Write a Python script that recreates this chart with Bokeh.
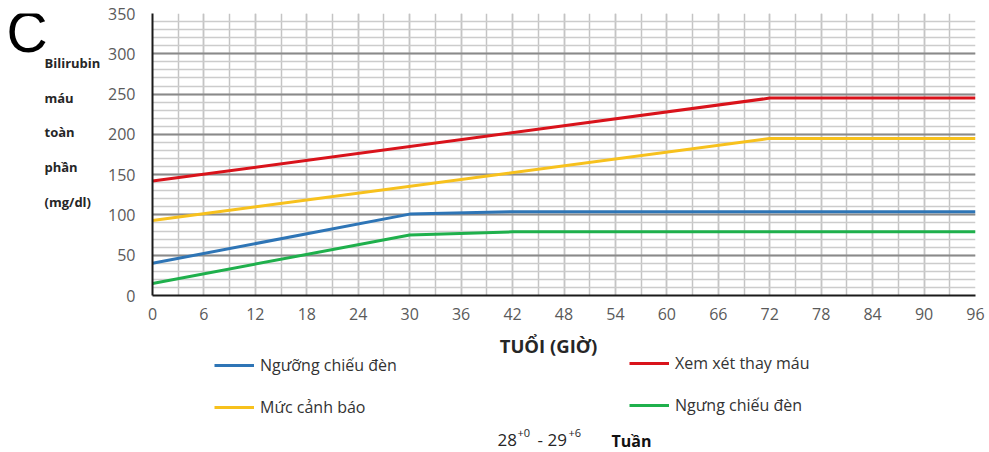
from bokeh.plotting import figure
from bokeh.layouts import column, row
from bokeh.models import FixedTicker, Legend, LegendItem, Range1d
from bokeh.core.properties import value
from bokeh.embed import file_html
from bokeh.resources import INLINE

# Age in hours and bilirubin thresholds (mg/dl), 28+0 - 29+6 weeks
hours_photo = [0, 30, 42, 96]
photo_start = [40, 101, 104, 104]      # Ngưỡng chiếu đèn
photo_stop = [15, 75, 79, 79]          # Ngưng chiếu đèn
hours_upper = [0, 72, 96]
warning = [93, 195, 195]               # Mức cảnh báo
exchange = [142, 245, 245]             # Xem xét thay máu

x_ticks = list(range(0, 97, 6))
x_minor = list(range(0, 97, 3))
y_ticks = list(range(0, 351, 50))
y_minor = list(range(0, 351, 10))

series_names = ["Ngưỡng chiếu đèn", "Mức cảnh báo", "Xem xét thay máu", "Ngưng chiếu đèn"]
series_colors = ["#2e75b6", "#f7c11d", "#d9131b", "#1fb04c"]
y_title_words = ["Bilirubin", "máu", "toàn", "phần", "(mg/dl)"]

FONT = "Open Sans"
W, H = 989, 452
TOP_H = 330
LEFT_W = 100
FRAME_TOP, FRAME_BOTTOM = 13, 295


def blank(width, height, x0, x1, y_bottom, y_top):
    # a figure without axes whose coordinates follow the page pixels
    f = figure(width=width, height=height, output_backend="svg",
               toolbar_location=None, x_axis_location=None, y_axis_location=None,
               x_range=Range1d(x0, x1), y_range=Range1d(y_bottom, y_top),
               min_border=0)
    f.outline_line_color = None
    f.grid.visible = False
    f.background_fill_color = "white"
    f.border_fill_color = "white"
    return f


# ---------------- main chart ----------------
p = figure(width=W - LEFT_W, height=TOP_H, output_backend="svg", toolbar_location=None,
           x_range=Range1d(0, 96), y_range=Range1d(0, 350),
           min_border_left=152 - LEFT_W, min_border_right=14,
           min_border_top=FRAME_TOP, min_border_bottom=TOP_H - FRAME_BOTTOM)
p.outline_line_color = None
p.background_fill_color = "white"
p.border_fill_color = "white"

p.xaxis.ticker = FixedTicker(ticks=x_ticks, minor_ticks=x_minor)
p.yaxis.ticker = FixedTicker(ticks=y_ticks, minor_ticks=y_minor)
for ax in (p.xaxis, p.yaxis):
    ax.axis_line_color = "#1a1a1a"
    ax.axis_line_width = 2
    ax.major_tick_out = 0
    ax.major_tick_in = 0
    ax.minor_tick_out = 0
    ax.minor_tick_in = 0
    ax.major_label_text_font = FONT
    ax.major_label_text_font_size = "16px"
    ax.major_label_text_color = "#5a5a5a"
p.xaxis.major_label_standoff = 12
p.yaxis.major_label_standoff = 17

p.xgrid.grid_line_color = "#c4c4c4"
p.xgrid.grid_line_width = 1.5
p.xgrid.minor_grid_line_color = "#c4c4c4"
p.xgrid.minor_grid_line_width = 1.5
p.ygrid.grid_line_color = "#8a8a8a"
p.ygrid.grid_line_width = 2
p.ygrid.minor_grid_line_color = "#cccccc"
p.ygrid.minor_grid_line_width = 1.5

p.line(hours_photo, photo_start, line_color=series_colors[0], line_width=3)
p.line(hours_upper, warning, line_color=series_colors[1], line_width=3)
p.line(hours_upper, exchange, line_color=series_colors[2], line_width=3)
p.line(hours_photo, photo_stop, line_color=series_colors[3], line_width=3)

# ---------------- left strip: panel letter and y title ----------------
# its frame lines up with the chart frame, so its range spans the frame rows
left = blank(LEFT_W, TOP_H, 0, LEFT_W, FRAME_BOTTOM, FRAME_TOP)
left.text(x=[6], y=[31], text=["C"], text_font=value("Liberation Sans"),
          text_font_size="57px", text_color="#000000", text_baseline="middle")
left.text(x=[44] * 5, y=[62, 97, 131, 166, 201], text=y_title_words,
          text_font=value(FONT), text_font_size="13px", text_font_style="bold",
          text_color="#262626", text_baseline="middle")

# ---------------- bottom strip: x title, legends, caption ----------------
bottom = blank(W, H - TOP_H, 0, W, H, TOP_H)
bottom.text(x=[548], y=[345], text=["TUỔI (GIỜ)"], text_font=value(FONT),
            text_font_size="18.5px", text_font_style="bold", text_color="#262626",
            text_align="center", text_baseline="middle")

bottom.text(x=[497, 547], y=[439, 439], text=["28", "29"], text_font=value(FONT),
            text_font_size="17px", text_color="#262626", text_baseline="middle")
bottom.text(x=[537], y=[439], text=["-"], text_font=value(FONT),
            text_font_size="17px", text_color="#262626", text_baseline="middle")
bottom.text(x=[517, 568], y=[432, 432], text=["+0", "+6"], text_font=value(FONT),
            text_font_size="11px", text_color="#262626", text_baseline="middle")
bottom.text(x=[611], y=[440], text=["Tuần"], text_font=value(FONT),
            text_font_size="16px", text_font_style="bold", text_color="#111111",
            text_baseline="middle")

# legend swatches: lines styled like the chart series, kept outside the view
swatches = [bottom.line(x=[-60, -50], y=[400, 400], line_color=c, line_width=3)
            for c in series_colors]


def make_legend(idx, left_px, bottom_px):
    items = [LegendItem(label=series_names[i], renderers=[swatches[i]]) for i in idx]
    return Legend(items=items, location=(left_px, H - bottom_px),
                  orientation="vertical",
                  glyph_width=40, glyph_height=20, label_height=20,
                  spacing=20, padding=0, margin=0, label_standoff=6,
                  label_text_font=FONT, label_text_font_size="16px",
                  label_text_color="#333333",
                  border_line_alpha=0, background_fill_alpha=0)


bottom.add_layout(make_legend([0, 1], 214, 418))
bottom.add_layout(make_legend([2, 3], 629, 416))

layout = column(row(left, p, spacing=0), bottom, spacing=0)
open("out.html", "w").write(file_html(layout, INLINE))
